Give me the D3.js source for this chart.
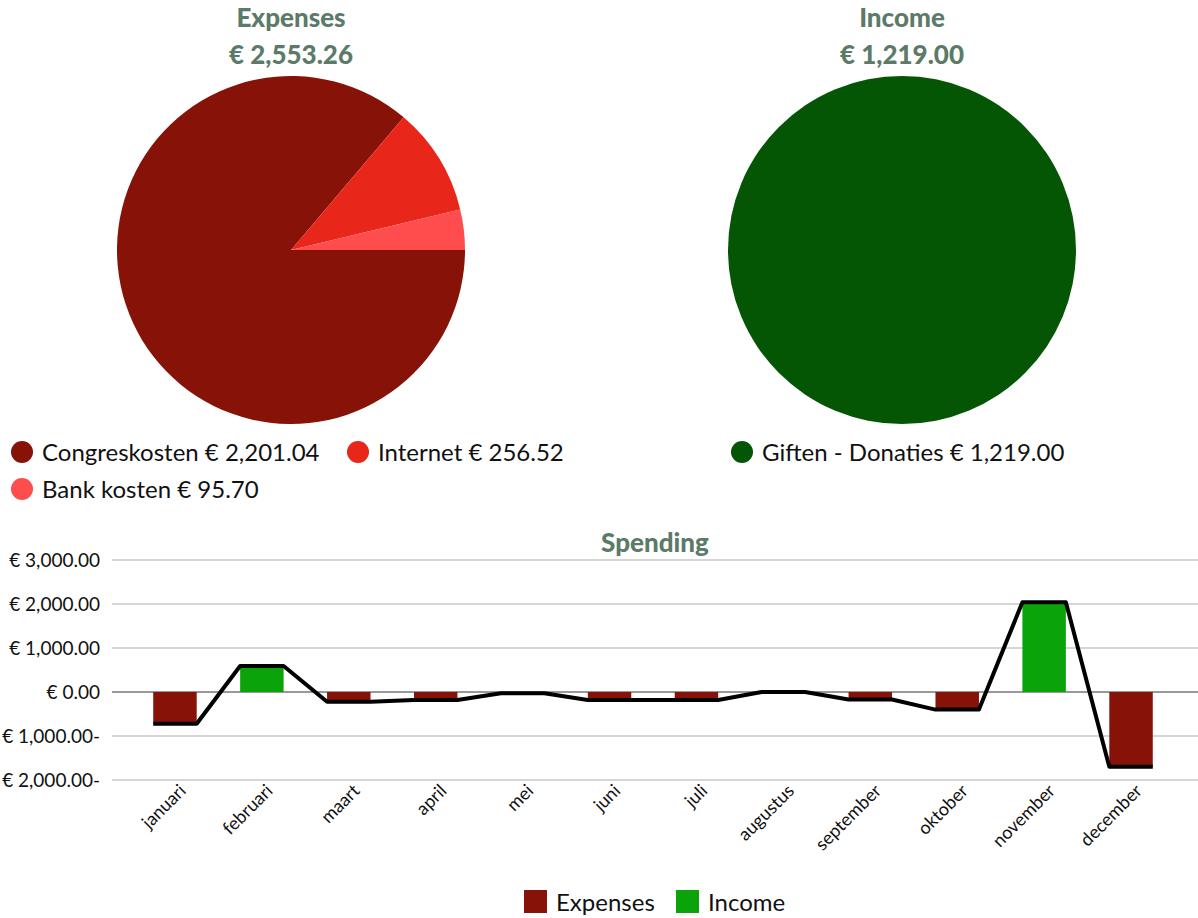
<!DOCTYPE html>
<html>
<head>
<meta charset="utf-8">
<script src="https://cdn.jsdelivr.net/npm/d3@7"></script>
<style>
  body { margin: 0; background: #fff; }
  svg { font-family: Lato, "Open Sans", sans-serif; }
</style>
</head>
<body>
<div id="chart"></div>
<script>
// expense pie
let expenseCats = ["Congreskosten", "Internet", "Bank kosten"];
let expenseVals = [2201.04, 256.52, 95.70];
let expenseColors = ["#861208", "#e8271a", "#ff4c4c"];
let expenseTotal = "€ 2,553.26";

// income pie
let incomeCats = ["Giften - Donaties"];
let incomeVals = [1219.00];
let incomeColors = ["#045504"];
let incomeTotal = "€ 1,219.00";

// monthly spending
let months = ["januari", "februari", "maart", "april", "mei", "juni", "juli",
    "augustus", "september", "oktober", "november", "december"];
let monthExpenses = [720, 0, 220, 180, 30, 180, 180, 0, 170, 400, 0, 1700];
let monthIncome = [0, 590, 0, 0, 0, 0, 0, 0, 0, 0, 2040, 0];
let yTicks = [-2000, -1000, 0, 1000, 2000, 3000];

let titleColor = "#5b7a68";
let W = 1198, H = 918;

let svg = d3.select("#chart")
    .append("svg")
    .attr("width", W)
    .attr("height", H);

let euro = d3.format(",.2f");

function drawPie(cx, title, total, cats, vals, colors) {
    svg.append("text")
        .attr("x", cx).attr("y", 27)
        .attr("text-anchor", "middle")
        .style("font-size", "26px").style("font-weight", "900")
        .style("fill", titleColor)
        .text(title);
    svg.append("text")
        .attr("x", cx).attr("y", 64)
        .attr("text-anchor", "middle")
        .style("font-size", "26px").style("font-weight", "900")
        .style("fill", titleColor)
        .text(total);

    let pie = d3.pie().sort(null)
        .startAngle(Math.PI / 2)
        .endAngle(Math.PI / 2 + 2 * Math.PI);
    let arc = d3.arc().innerRadius(0).outerRadius(174);

    let g = svg.append("g").attr("transform", "translate(" + cx + ",250)");
    g.selectAll("path")
        .data(pie(vals))
        .enter()
        .append("path")
        .attr("d", arc)
        .style("fill", function (d, i) { return colors[i]; });
}

drawPie(291, "Expenses", expenseTotal, expenseCats, expenseVals, expenseColors);
drawPie(902, "Income", incomeTotal, incomeCats, incomeVals, incomeColors);

// pie legends
function legendItem(x, y, color, label) {
    svg.append("circle")
        .attr("cx", x).attr("cy", y).attr("r", 11)
        .style("fill", color);
    svg.append("text")
        .attr("x", x + 20).attr("y", y + 9)
        .style("font-size", "24px").style("fill", "#111")
        .text(label);
}
legendItem(22, 452, expenseColors[0], expenseCats[0] + " € " + euro(expenseVals[0]));
legendItem(358, 452, expenseColors[1], expenseCats[1] + " € " + euro(expenseVals[1]));
legendItem(22, 489, expenseColors[2], expenseCats[2] + " € " + euro(expenseVals[2]));
legendItem(742, 452, incomeColors[0], incomeCats[0] + " € " + euro(incomeVals[0]));

// spending chart
svg.append("text")
    .attr("x", 655).attr("y", 552)
    .attr("text-anchor", "middle")
    .style("font-size", "26px").style("font-weight", "900")
    .style("fill", titleColor)
    .text("Spending");

let x = d3.scaleBand().domain(months).range([131.5, 1174.5])
    .paddingInner(0.5).paddingOuter(0.25);
let y = d3.scaleLinear().domain([-2000, 3000]).range([780, 560]);

let gridG = svg.append("g");
gridG.selectAll("line")
    .data(yTicks)
    .enter()
    .append("line")
    .attr("x1", 112).attr("x2", W)
    .attr("y1", function (d) { return y(d); })
    .attr("y2", function (d) { return y(d); })
    .style("stroke", function (d) { return d === 0 ? "#333" : "#c8c8c8"; })
    .style("stroke-width", function (d) { return d === 0 ? 1 : 1.5; });

let yAxis = svg.append("g")
    .attr("transform", "translate(100,0)")
    .call(d3.axisLeft(y).tickValues(yTicks).tickSize(0).tickPadding(0)
        .tickFormat(function (d) {
            return "€ " + euro(Math.abs(d)) + (d < 0 ? "-" : "");
        }));
yAxis.select(".domain").remove();
yAxis.selectAll("text")
    .style("font-family", "Lato, sans-serif")
    .style("font-size", "19px")
    .style("fill", "#111");

let xAxis = svg.append("g")
    .attr("transform", "translate(0,782)")
    .call(d3.axisBottom(x).tickSize(0).tickPadding(0));
xAxis.select(".domain").remove();
xAxis.selectAll("text")
    .style("font-family", "Lato, sans-serif")
    .style("font-size", "18px")
    .style("fill", "#111")
    .attr("text-anchor", "end")
    .attr("dy", "0")
    .attr("transform", "translate(12,10) rotate(-45)");

// bars
svg.selectAll("rect.exp")
    .data(monthExpenses)
    .enter()
    .append("rect")
    .attr("class", "exp")
    .attr("x", function (d, i) { return x(months[i]); })
    .attr("y", y(0))
    .attr("width", x.bandwidth())
    .attr("height", function (d) { return y(-d) - y(0); })
    .style("fill", "#861208");

svg.selectAll("rect.inc")
    .data(monthIncome)
    .enter()
    .append("rect")
    .attr("class", "inc")
    .attr("x", function (d, i) { return x(months[i]); })
    .attr("y", function (d) { return y(d); })
    .attr("width", x.bandwidth())
    .attr("height", function (d) { return y(0) - y(d); })
    .style("fill", "#0aa30a");

// net line, flat across each bar
let linePts = [];
months.forEach(function (m, i) {
    let net = monthIncome[i] - monthExpenses[i];
    linePts.push([x(m), net]);
    linePts.push([x(m) + x.bandwidth(), net]);
});
svg.append("path")
    .datum(linePts)
    .attr("d", d3.line()
        .x(function (d) { return d[0]; })
        .y(function (d) { return y(d[1]); }))
    .style("fill", "none")
    .style("stroke", "#000")
    .style("stroke-width", 4)
    .style("stroke-linejoin", "round");

// bottom legend
let legItems = [["Expenses", "#861208", 524], ["Income", "#0aa30a", 676]];
legItems.forEach(function (l) {
    svg.append("rect")
        .attr("x", l[2]).attr("y", 890)
        .attr("width", 23).attr("height", 23)
        .style("fill", l[1]);
    svg.append("text")
        .attr("x", l[2] + 32).attr("y", 911)
        .style("font-size", "24px").style("fill", "#111")
        .text(l[0]);
});
</script>
</body>
</html>
